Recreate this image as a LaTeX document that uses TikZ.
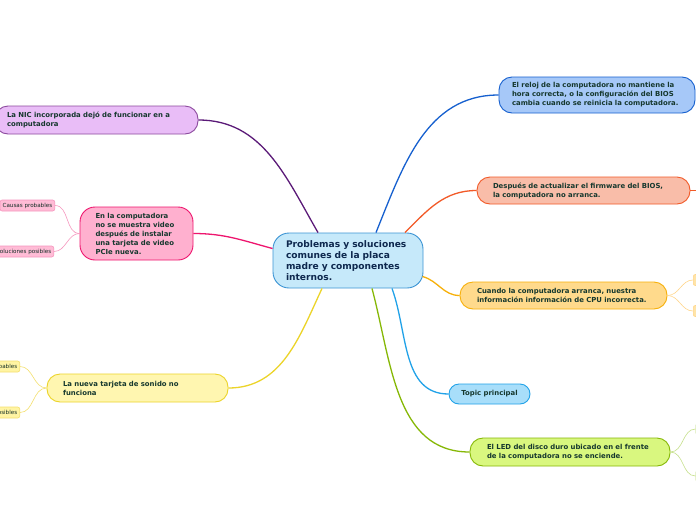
\documentclass[tikz,border=0pt]{standalone}
\usepackage{fontspec}
\setmainfont{DejaVu Sans}
\definecolor{nodetext}{RGB}{22, 56, 46}
\definecolor{centertext}{RGB}{14, 40, 78}
\definecolor{centerfill}{RGB}{198, 233, 250}
\definecolor{centerline}{RGB}{60, 148, 212}
\definecolor{nicfill}{RGB}{233, 189, 247}
\definecolor{nicborder}{RGB}{140, 75, 158}
\definecolor{nicline}{RGB}{91, 26, 120}
\definecolor{videofill}{RGB}{255, 176, 207}
\definecolor{videoline}{RGB}{238, 21, 110}
\definecolor{pinksub}{RGB}{255, 188, 214}
\definecolor{pinktwig}{RGB}{246, 150, 190}
\definecolor{soundfill}{RGB}{255, 246, 176}
\definecolor{soundline}{RGB}{236, 212, 42}
\definecolor{yellowsub}{RGB}{255, 244, 163}
\definecolor{yellowtwig}{RGB}{244, 224, 110}
\definecolor{clockfill}{RGB}{166, 200, 248}
\definecolor{clockline}{RGB}{22, 96, 207}
\definecolor{biosfill}{RGB}{249, 189, 169}
\definecolor{biosline}{RGB}{242, 90, 40}
\definecolor{cpufill}{RGB}{255, 218, 140}
\definecolor{cpuline}{RGB}{247, 176, 10}
\definecolor{orangesub}{RGB}{255, 228, 168}
\definecolor{orangetwig}{RGB}{255, 214, 138}
\definecolor{topicfill}{RGB}{168, 222, 250}
\definecolor{topicline}{RGB}{33, 162, 232}
\definecolor{ledfill}{RGB}{217, 247, 127}
\definecolor{ledline}{RGB}{134, 184, 6}
\definecolor{greensub}{RGB}{230, 247, 190}
\definecolor{greentwig}{RGB}{197, 224, 138}
\usepackage{tikz}
\usetikzlibrary{positioning, calc}
\tikzset{
    mainbox/.style={draw, rectangle, rounded corners=13pt, line width=0.9pt, align=left, inner ysep=0pt, font=\fontsize{6.9}{9}\selectfont\bfseries, text=nodetext},
    centerbox/.style={mainbox, rounded corners=16pt, fill=centerfill, draw=centerline, font=\fontsize{9.1}{11}\selectfont\bfseries, text=centertext},
    subbox/.style={draw, rectangle, rounded corners=2pt, line width=0.6pt, minimum height=11pt, inner xsep=2.5pt, inner ysep=0pt, font=\fontsize{5.6}{6}\selectfont, text=nodetext!80!black},
    branch/.style={line width=1.3pt},
    twig/.style={line width=0.6pt},
}
\begin{document}
\begin{tikzpicture}[x=1pt, y=1pt]
    \useasboundingbox (0,0) rectangle (696,-520);
    \clip (0,0) rectangle (696,-520);
    \fill[white] (0,0) rectangle (696,-520);

    % central topic
    \node[centerbox, text width=124pt, inner xsep=13pt, minimum height=55pt] (cen) at (348,-260.5)
          {Problemas y soluciones\\comunes de la placa\\madre y componentes\\internos.};

    % left branches
    \node[mainbox, fill=nicfill, draw=nicborder, text width=179pt, inner xsep=12pt, minimum height=28pt] (nic) at (96.5,-120)
          {La NIC incorporada dejó de funcionar en a\\computadora};
    \node[mainbox, rounded corners=15pt, fill=videofill, draw=videoline, text width=82pt, inner xsep=15.5pt, minimum height=53pt] (video) at (136.5,-233.5)
          {En la computadora\\no se muestra video\\después de instalar\\una tarjeta de video\\PCIe nueva.};
    \node[mainbox, fill=soundfill, draw=soundline, text width=149pt, inner xsep=16pt, minimum height=28pt] (sound) at (137.5,-388)
          {La nueva tarjeta de sonido no\\funciona};

    \node[subbox, fill=pinksub, draw=pinktwig, anchor=east] (vcause) at (55,-205.5) {Causas probables};
    \node[subbox, fill=pinksub, draw=pinktwig, anchor=east] (vsol) at (54,-251.5) {Soluciones posibles};
    \node[subbox, fill=yellowsub, draw=yellowtwig, anchor=east] (scause) at (20,-366.5) {Causas probables};
    \node[subbox, fill=yellowsub, draw=yellowtwig, anchor=east] (ssol) at (20,-412.5) {Soluciones posibles};

    % right branches
    \node[mainbox, fill=clockfill, draw=clockline, text width=170pt, inner xsep=13pt, minimum height=36pt] (clock) at (597,-95)
          {El reloj de la computadora no mantiene la\\hora correcta, o la configuración del BIOS\\cambia cuando se reinicia la computadora.};
    \node[mainbox, fill=biosfill, draw=biosline, text width=181pt, inner xsep=16pt, minimum height=27pt] (bios) at (583.5,-190.5)
          {Después de actualizar el firmware del BIOS,\\la computadora no arranca.};
    \node[mainbox, fill=cpufill, draw=cpuline, text width=173pt, inner xsep=17pt, minimum height=27pt] (cpu) at (563.5,-295.5)
          {Cuando la computadora arranca, nuestra\\información información de CPU incorrecta.};
    \node[mainbox, rounded corners=10pt, fill=topicfill, draw=topicline, inner xsep=11pt, minimum width=81pt, minimum height=20pt] (topic) at (489.5,-394)
          {Topic principal};
    \node[mainbox, fill=ledfill, draw=ledline, text width=166pt, inner xsep=17pt, minimum height=28pt] (led) at (570,-452)
          {El LED del disco duro ubicado en el frente\\de la computadora no se enciende.};

    \node[subbox, fill=orangesub, draw=orangetwig, anchor=west, minimum width=30pt] (csub1) at (693,-280) {};
    \node[subbox, fill=orangesub, draw=orangetwig, anchor=west, minimum width=30pt] (csub2) at (693,-311) {};
    \node[subbox, fill=greensub, draw=greentwig, anchor=west, minimum width=30pt] (lsub1) at (695.5,-429) {};
    \node[subbox, fill=greensub, draw=greentwig, anchor=west, minimum width=30pt] (lsub2) at (695.5,-476) {};
    \node[subbox, fill=biosfill, draw=biosline, anchor=west, minimum width=30pt] (bsub) at (699,-190.5) {};

    % connectors
    \draw[branch, nicline] (nic.east) to[out=0, in=120] ([xshift=-30pt]cen.north);
    \draw[branch, videoline] (video.east) to[out=0, in=165] ([yshift=12pt]cen.west);
    \draw[branch, soundline] (sound.east) to[out=0, in=-115] ([xshift=-26pt]cen.south);
    \draw[branch, clockline] ([xshift=28pt]cen.north) to[out=68, in=180] (clock.west);
    \draw[branch, biosline] ([xshift=57pt]cen.north) to[out=45, in=180] (bios.west);
    \draw[branch, cpuline] ([xshift=-1pt, yshift=-16pt]cen.east) to[out=-15, in=180] (cpu.west);
    \draw[branch, topicline] ([xshift=44pt]cen.south) to[out=-70, in=180] (topic.west);
    \draw[branch, ledline] ([xshift=24pt]cen.south) to[out=-75, in=180] (led.west);

    \draw[twig, pinktwig] (video.west) to[out=180, in=0] (vcause.east);
    \draw[twig, pinktwig] (video.west) to[out=180, in=0] (vsol.east);
    \draw[twig, yellowtwig] (sound.west) to[out=180, in=0] (scause.east);
    \draw[twig, yellowtwig] (sound.west) to[out=180, in=0] (ssol.east);
    \draw[twig, orangetwig] (cpu.east) to[out=0, in=180] (csub1.west);
    \draw[twig, orangetwig] (cpu.east) to[out=0, in=180] (csub2.west);
    \draw[twig, greentwig] (led.east) to[out=0, in=180] (lsub1.west);
    \draw[twig, greentwig] (led.east) to[out=0, in=180] (lsub2.west);
    \draw[twig, biosline] (bios.east) -- (bsub.west);
\end{tikzpicture}
\end{document}
